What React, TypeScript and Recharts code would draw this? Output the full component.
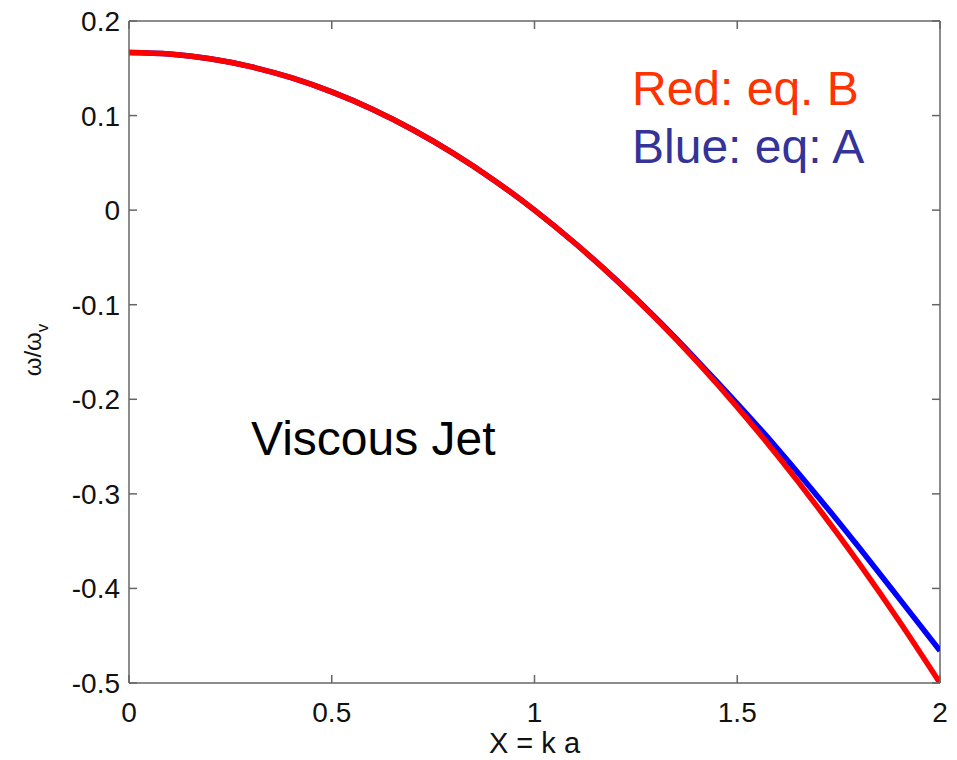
import React from 'react';
import { LineChart, Line, XAxis, YAxis, Label, ReferenceLine } from 'recharts';

// X = k a
const xs = [0, 0.1, 0.2, 0.3, 0.4, 0.5, 0.6, 0.7, 0.8, 0.9, 1.0, 1.1, 1.2, 1.3, 1.4, 1.5, 1.6, 1.7, 1.8, 1.9, 2.0];
// red curve (eq. B)
const redVals = [0.1667, 0.165, 0.16, 0.1517, 0.14, 0.125, 0.1067, 0.085, 0.06, 0.0317, 0, -0.035, -0.0733, -0.115, -0.16, -0.2083, -0.26, -0.315, -0.3733, -0.435, -0.5];
// blue curve (eq. A)
const blueVals = [0.1667, 0.165, 0.16, 0.1517, 0.14, 0.125, 0.1067, 0.085, 0.06, 0.0317, 0, -0.035, -0.0732, -0.1143, -0.1585, -0.2045, -0.2525, -0.3035, -0.3565, -0.411, -0.466];

const xTicks = [0, 0.5, 1, 1.5, 2];
const yTicks = [0.2, 0.1, 0, -0.1, -0.2, -0.3, -0.4, -0.5];

const FONT = 'Arial, "Liberation Sans", Helvetica, sans-serif';
const AXIS = '#666';
const W = 957;
const H = 760;
const M = { top: 21, right: 17, bottom: 0, left: 0 };
const Y_AXIS_W = 129;
const X_AXIS_H = 77;
// plot box edges (from the margins above)
const LEFT = M.left + Y_AXIS_W;
const RIGHT = W - M.right;
const TOP = M.top;
const BOTTOM = H - X_AXIS_H;
const TICK_LEN = 8;
const X_MARGIN = 19;
const Y_MARGIN = 9;

// MATLAB style: ticks point inward, on both sides of the box
const XTick = (props: any) => {
  const { x, y, payload } = props;
  const cx = payload.coordinate;
  return (
    <g>
      <line x1={cx} x2={cx} y1={BOTTOM} y2={BOTTOM - TICK_LEN} stroke={AXIS} strokeWidth={1.5} />
      <line x1={cx} x2={cx} y1={TOP} y2={TOP + TICK_LEN} stroke={AXIS} strokeWidth={1.5} />
      <text x={x} y={y} dy="0.71em" textAnchor="middle" fill="#111" fontSize={28} fontFamily={FONT}>
        {String(payload.value)}
      </text>
    </g>
  );
};

const YTick = (props: any) => {
  const { x, y, payload } = props;
  const cy = payload.coordinate;
  return (
    <g>
      <line x1={LEFT} x2={LEFT + TICK_LEN} y1={cy} y2={cy} stroke={AXIS} strokeWidth={1.5} />
      <line x1={RIGHT} x2={RIGHT - TICK_LEN} y1={cy} y2={cy} stroke={AXIS} strokeWidth={1.5} />
      <text x={x} y={y} dy="0.355em" textAnchor="end" fill="#111" fontSize={28} fontFamily={FONT}>
        {String(payload.value)}
      </text>
    </g>
  );
};

export default function App() {
  const data = xs.map((x, i) => ({ x, red: redVals[i], blue: blueVals[i] }));

  return (
    <div style={{ position: 'absolute', left: 0, top: 0, width: W, height: H, background: '#fff' }}>
      <LineChart width={W} height={H} data={data} margin={M}>
        <XAxis
          dataKey="x"
          type="number"
          domain={[0, 2]}
          ticks={xTicks}
          allowDataOverflow
          height={X_AXIS_H}
          tickSize={0}
          tickLine={false}
          tickMargin={X_MARGIN}
          tick={<XTick />}
          stroke={AXIS}
          strokeWidth={1.5}
        >
          <Label
            value="X = k a"
            position="insideBottom"
            offset={7}
            style={{ fill: '#111', fontSize: 29, fontFamily: FONT }}
          />
        </XAxis>
        <YAxis
          type="number"
          domain={[-0.5, 0.2]}
          ticks={yTicks}
          allowDataOverflow
          width={Y_AXIS_W}
          tickSize={0}
          tickLine={false}
          tickMargin={Y_MARGIN}
          tick={<YTick />}
          stroke={AXIS}
          strokeWidth={1.5}
        />
        <ReferenceLine x={2} stroke={AXIS} strokeWidth={1.5} />
        <ReferenceLine y={0.2} stroke={AXIS} strokeWidth={1.5} />
        <Line dataKey="blue" stroke="#0000ff" strokeWidth={5.5} dot={false} type="monotone" isAnimationActive={false} />
        <Line dataKey="red" stroke="#ff0000" strokeWidth={5.5} dot={false} type="monotone" isAnimationActive={false} />
        <text x={632} y={105} fill="#ff3300" fontSize={48} fontFamily={FONT}>Red: eq. B</text>
        <text x={632} y={163} fill="#333399" fontSize={48} fontFamily={FONT}>Blue: eq: A</text>
        <text x={251} y={455} fill="#000" fontSize={48} fontFamily={FONT}>Viscous Jet</text>
        <text x={41} y={350} transform="rotate(-90 41 350)" textAnchor="middle" fill="#111" fontSize={24} fontFamily={FONT}>
          ω/ω<tspan fontSize={17} dy={7}>v</tspan>
        </text>
      </LineChart>
    </div>
  );
}
